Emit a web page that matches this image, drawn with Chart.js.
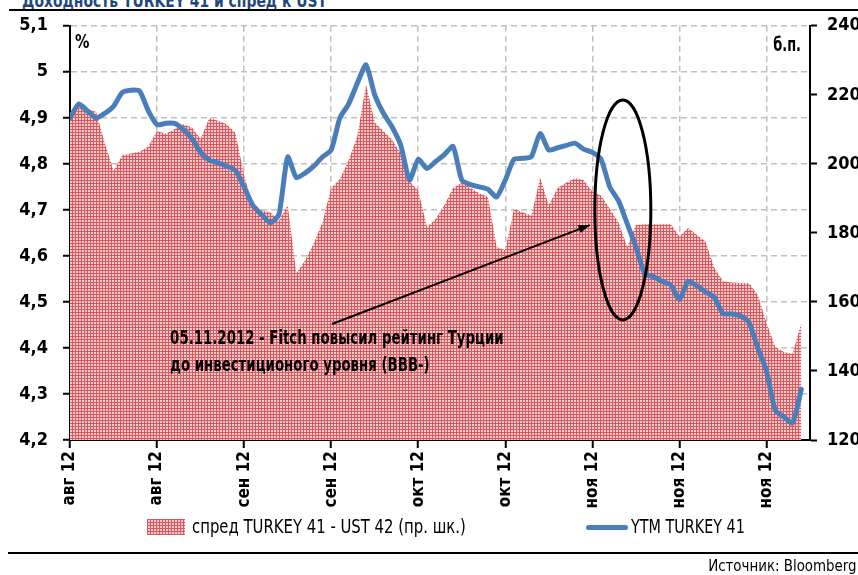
<!DOCTYPE html>
<html lang="ru">
<head>
<meta charset="UTF-8" />
<title>Доходность TURKEY 41 и спред к UST</title>
<style>
  body { margin: 0; background: #fff; }
  #wrap { position: relative; width: 858px; height: 575px; overflow: hidden;
          font-family: 'Liberation Sans Narrow', 'DejaVu Sans Condensed', sans-serif; }
  #title { position: absolute; left: 22px; top: -10px; font-size: 18px; font-weight: bold; color: #1f497d;
           white-space: nowrap; transform: scaleX(0.86); transform-origin: left top; }
  .rule { position: absolute; height: 2px; background: #000; }
  #src { position: absolute; right: 1px; top: 556px; font-size: 16px; color: #000;
         transform: scaleX(0.93); transform-origin: right top; }
  .leg { position: absolute; top: 515px; font-size: 19px; color: #000; white-space: nowrap;
         transform: scaleX(0.87); transform-origin: left top; }
  .swatch { position: absolute; top: 519px; left: 147px; width: 38px; height: 16px;
            background-color: #f3cccc;
            background-image: linear-gradient(#d9575d 1px, transparent 1px), linear-gradient(90deg, #d9575d 1px, transparent 1px);
            background-size: 3px 3px; }
  .lineswatch { position: absolute; top: 525px; left: 586px; width: 42px; height: 5px; border-radius: 3px; background: #4a7ebb; }
  canvas { position: absolute; left: 0; top: 0; }
</style>
</head>
<body>
<div id="wrap">
  <div id="title">Доходность TURKEY 41 и спред к UST</div>
  <div class="rule" style="left:9px; right:0; top:9px;"></div>
  <canvas id="myChart" width="858" height="575"></canvas>
  <div class="swatch"></div>
  <div class="leg" style="left:192px;">спред TURKEY 41 - UST 42 (пр. шк.)</div>
  <div class="lineswatch"></div>
  <div class="leg" style="left:631px; transform: scaleX(0.84);">YTM TURKEY 41</div>
  <div class="rule" style="left:8px; right:0; top:552px;"></div>
  <div id="src">Источник: Bloomberg</div>
</div>

<script src="https://cdn.jsdelivr.net/npm/chart.js"></script>
<script>
// подписи оси X (каждые 10 торговых дней)
const tickLabels = ["авг 12", "авг 12", "сен 12", "сен 12", "окт 12", "окт 12", "ноя 12", "ноя 12", "ноя 12"];
const leftTicks = [4.2, 4.3, 4.4, 4.5, 4.6, 4.7, 4.8, 4.9, 5.0, 5.1];
const rightTicks = [120, 140, 160, 180, 200, 220, 240];

// YTM TURKEY 41, %
const ytm = [
  4.90, 4.93, 4.915, 4.90, 4.91, 4.925, 4.955, 4.96, 4.958, 4.915,
  4.885, 4.888, 4.888, 4.875, 4.855, 4.825, 4.808, 4.802, 4.795, 4.786,
  4.75, 4.71, 4.69, 4.672, 4.69, 4.815, 4.77, 4.78, 4.795, 4.815,
  4.83, 4.9, 4.93, 4.975, 5.015, 4.95, 4.91, 4.88, 4.84, 4.765,
  4.81, 4.79, 4.805, 4.82, 4.838, 4.765, 4.755, 4.75, 4.745, 4.728,
  4.765, 4.81, 4.812, 4.816, 4.866, 4.83, 4.835, 4.84, 4.845, 4.832,
  4.825, 4.81, 4.75, 4.72, 4.67, 4.62, 4.562, 4.555, 4.545, 4.537,
  4.505, 4.545, 4.535, 4.522, 4.51, 4.475, 4.474, 4.47, 4.455, 4.40,
  4.35, 4.265, 4.25, 4.237, 4.31
];

// спред TURKEY 41 - UST 42, б.п.
const spread = [
  213.5, 216.5, 216, 215, 206, 198, 202.5, 203, 203.5, 205,
  209.5, 208.7, 210, 211.5, 210.5, 207.2, 213.3, 212.5, 211.5, 209,
  196.6, 188, 186.5, 186, 183.5, 188, 168.3, 172, 177, 183,
  193, 195.6, 201, 208, 223, 212, 209.5, 207, 203, 195,
  192.3, 181.7, 184, 188, 193, 194.5, 193, 191.5, 190.5, 176,
  175, 187, 186, 185, 196, 188, 193, 194.5, 195.8, 195.3,
  192, 190.8, 187, 183, 176, 182.3, 182.5, 182.5, 182.5, 182.5,
  179, 181.4, 179.5, 177.5, 170, 166, 165.6, 165.5, 165.4, 162,
  154, 147, 145.5, 145, 154
];

const FONT = "'Liberation Sans Narrow', 'DejaVu Sans Condensed', sans-serif";
const canvas = document.getElementById("myChart");
const ctx = canvas.getContext("2d");

// штриховка для области спреда
const pc = document.createElement("canvas");
pc.width = 3; pc.height = 3;
const p = pc.getContext("2d");
p.fillStyle = "#f3cccc"; p.fillRect(0, 0, 3, 3);
p.fillStyle = "#d9575d"; p.fillRect(0, 0, 3, 1); p.fillRect(0, 0, 1, 3);
const hatch = ctx.createPattern(pc, "repeat");

const fmt = (v) => String(Math.round(v * 10) / 10).replace(".", ",");

// узкий текст на канве
function narrowText(c, text, x, y, sx) {
  c.save();
  c.translate(x, y);
  c.scale(sx, 1);
  c.fillText(text, 0, 0);
  c.restore();
}

const annot = {
  id: "annot",
  afterDatasetsDraw(chart) {
    const c = chart.ctx;
    const x = chart.scales.x, y = chart.scales.y;
    c.save();
    // эллипс вокруг 05.11
    c.strokeStyle = "#000"; c.lineWidth = 3;
    c.beginPath();
    c.ellipse(x.getPixelForValue(63.5), y.getPixelForValue(4.7), 28, 110, 0, 0, Math.PI * 2);
    c.stroke();
    // стрелка
    const x1 = x.getPixelForValue(30.1), y1 = y.getPixelForValue(4.452);
    const x2 = x.getPixelForValue(59.7), y2 = y.getPixelForValue(4.667);
    c.lineWidth = 2;
    c.beginPath(); c.moveTo(x1, y1); c.lineTo(x2, y2); c.stroke();
    const a = Math.atan2(y2 - y1, x2 - x1);
    c.fillStyle = "#000";
    c.beginPath();
    c.moveTo(x2, y2);
    c.lineTo(x2 - 12 * Math.cos(a - 0.35), y2 - 12 * Math.sin(a - 0.35));
    c.lineTo(x2 - 12 * Math.cos(a + 0.35), y2 - 12 * Math.sin(a + 0.35));
    c.closePath(); c.fill();
    // текст
    c.font = "bold 19px " + FONT;
    c.textBaseline = "middle";
    c.textAlign = "left";
    const tx = x.getPixelForValue(11.5);
    narrowText(c, "05.11.2012 - Fitch повысил рейтинг Турции", tx, y.getPixelForValue(4.42), 0.78);
    narrowText(c, "до инвестиционого уровня (BBB-)", tx, y.getPixelForValue(4.36), 0.78);
    // единицы осей
    c.font = "bold 20px " + FONT;
    narrowText(c, "%", chart.chartArea.left + 5, chart.chartArea.top + 17, 0.8);
    c.textAlign = "right";
    narrowText(c, "б.п.", chart.chartArea.right - 9, chart.chartArea.top + 20, 0.72);
    c.restore();
  }
};

const gridDash = [6, 4];

new Chart(canvas, {
  type: "line",
  data: {
    datasets: [
      {
        label: "YTM TURKEY 41",
        data: ytm.map((v, i) => ({ x: i, y: v })),
        yAxisID: "y",
        borderColor: "#4a7ebb",
        borderWidth: 5,
        borderCapStyle: "round",
        borderJoinStyle: "round",
        pointRadius: 0,
        tension: 0.2,
        fill: false,
        order: 0
      },
      {
        label: "спред TURKEY 41 - UST 42 (пр. шк.)",
        data: spread.map((v, i) => ({ x: i, y: v })),
        yAxisID: "y1",
        backgroundColor: hatch,
        borderWidth: 0,
        pointRadius: 0,
        tension: 0,
        fill: "start",
        order: 1
      }
    ]
  },
  options: {
    responsive: false,
    animation: false,
    devicePixelRatio: 1,
    layout: { padding: { top: 22, left: 0, right: 0, bottom: 0 } },
    plugins: { legend: { display: false }, tooltip: { enabled: false } },
    scales: {
      x: {
        type: "linear",
        min: 0,
        max: 85,
        afterBuildTicks: (s) => { s.ticks = tickLabels.map((t, i) => ({ value: i * 10 })); },
        afterFit: (s) => { s.height = 135; },
        ticks: {
          autoSkip: false,
          minRotation: 90,
          maxRotation: 90,
          padding: 3,
          color: "#000",
          font: { family: FONT, size: 17, weight: "bold" },
          callback: (v) => tickLabels[Math.round(v / 10)]
        },
        grid: { color: "#c0c0c0", lineWidth: 1.5, tickColor: "#000", tickLength: 8, tickWidth: 2, tickBorderDash: [1, 0] },
        border: { color: "#000", width: 2, dash: gridDash }
      },
      y: {
        position: "left",
        min: 4.2,
        max: 5.1,
        afterBuildTicks: (s) => { s.ticks = leftTicks.map((v) => ({ value: v })); },
        afterFit: (s) => { s.width = 70; },
        ticks: {
          padding: 15,
          color: "#000",
          font: { family: FONT, size: 18, weight: "bold" },
          callback: (v) => fmt(v)
        },
        grid: { color: "#c0c0c0", lineWidth: 1.5, tickColor: "#000", tickLength: 7, tickWidth: 2, tickBorderDash: [1, 0] },
        border: { color: "#000", width: 2, dash: gridDash }
      },
      y1: {
        position: "right",
        min: 120,
        max: 240,
        afterBuildTicks: (s) => { s.ticks = rightTicks.map((v) => ({ value: v })); },
        afterFit: (s) => { s.width = 48; },
        ticks: {
          padding: 10,
          color: "#000",
          font: { family: FONT, size: 18, weight: "bold" }
        },
        grid: { drawOnChartArea: false, tickColor: "#000", tickLength: 7, tickWidth: 2 },
        border: { color: "#000", width: 2 }
      }
    }
  },
  plugins: [annot]
});
</script>
</body>
</html>
